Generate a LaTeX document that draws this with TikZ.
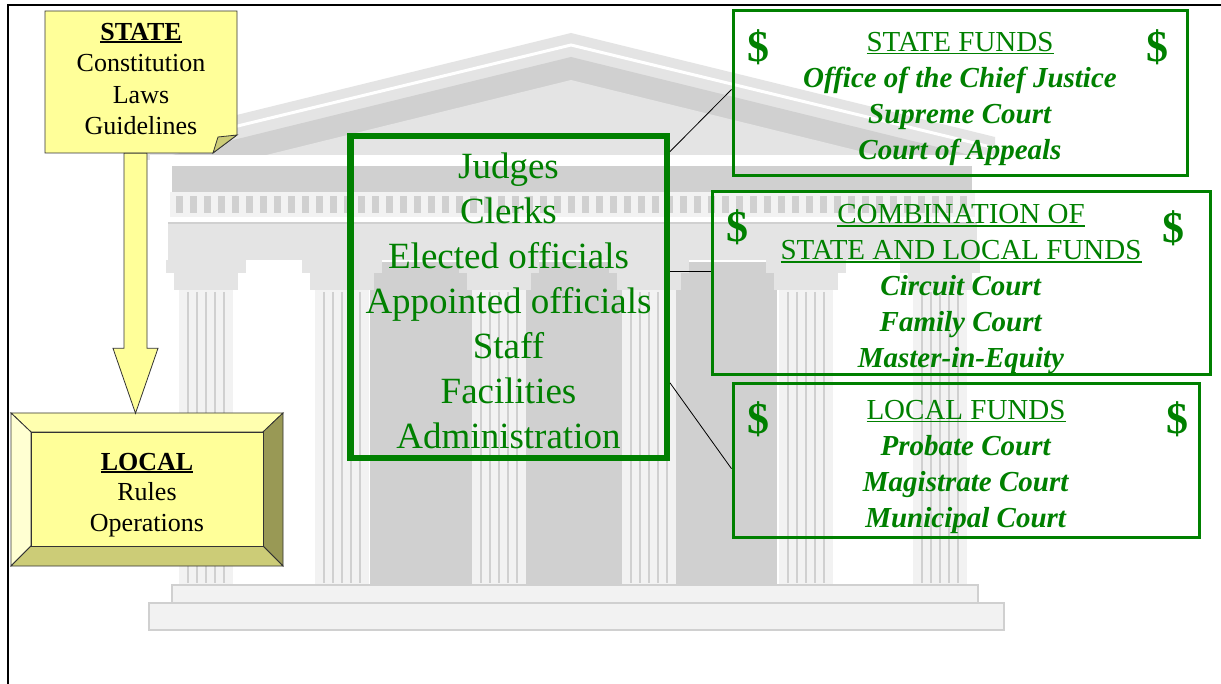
\documentclass[tikz,border=0pt]{standalone}
\usepackage{fontspec}
\setmainfont{Liberation Serif}
\usetikzlibrary{calc}
\definecolor{courtgreen}{RGB}{0,128,0}
\definecolor{noteyellow}{RGB}{255,255,153}
\definecolor{bevtop}{RGB}{255,255,175}
\definecolor{bevleft}{RGB}{255,255,210}
\definecolor{bevright}{RGB}{153,153,85}
\definecolor{bevbottom}{RGB}{204,204,119}
\definecolor{bldg}{RGB}{208,208,208}
\definecolor{bldglight}{RGB}{228,228,228}
\definecolor{bldgpale}{RGB}{242,242,242}
\newcommand{\undl}[2][1.6pt]{\setbox0=\hbox{#2}\rlap{\rule[-3pt]{\wd0}{#1}}\box0}

\begin{document}
\begin{tikzpicture}[x=1pt,y=-1pt,
    yellowtext/.style={align=center,inner sep=0pt,font=\fontsize{26}{31.5}\selectfont},
    fundbox/.style={draw=courtgreen,line width=3pt,align=center,inner sep=0pt,text=courtgreen,
      font=\fontsize{29}{36}\selectfont},
    dollar/.style={text=courtgreen,inner sep=0pt,font=\fontsize{44}{44}\selectfont\bfseries},
    link/.style={black,line width=0.8pt},
    edge/.style={draw=black!80,line width=0.8pt}]
    \fill[white] (0,0) rectangle (1221,684);
    \useasboundingbox (0,0) rectangle (1221,684);

    % courthouse in the background
    \fill[bldglight] (147,137) -- (571,33) -- (995,137) -- (995,160) -- (147,160) -- cycle;
    \draw[white,line width=3pt] (147,148) -- (571,45) -- (995,148);
    \fill[bldg] (152,160) -- (571,57) -- (990,160) -- cycle;
    \fill[bldglight] (246,160) -- (571,80) -- (896,160) -- cycle;
    \fill[white] (150,155) rectangle (993,166);
    \fill[bldg] (172,166) rectangle (972,192);
    \fill[bldgpale] (170,192) rectangle (975,217);
    \foreach \x in {176,190,...,966}
        \fill[bldg] (\x,196) rectangle ++(7,17);
    \fill[bldglight] (168,222) rectangle (977,260);
    \draw[bldg,line width=2pt] (168,223) -- (977,223);
    \fill[bldg] (370,262) rectangle (777,585);
    \foreach \c in {206,342,499,649,806,940} {
        \fill[bldglight] ({\c-40},260) rectangle ({\c+40},273);
        \fill[bldglight] ({\c-32},273) rectangle ({\c+32},290);
        \fill[bldgpale] ({\c-27},290) rectangle ({\c+27},585);
        \foreach \f in {-18,-9,0,9,18}
            \draw[bldg,line width=2pt] ({\c+\f},292) -- ({\c+\f},583);
    }
    \fill[bldgpale] (172,585) rectangle (978,603);
    \draw[bldg,line width=2pt] (172,585) rectangle (978,603);
    \fill[bldgpale] (149,603) rectangle (1004,630);
    \draw[bldg,line width=2pt] (149,603) rectangle (1004,630);

    % frame
    \draw[line width=1.6pt] (8,684) -- (8,5) -- (1221,5);

    % state note and local plaque
    \draw[edge,fill=noteyellow] (45,11) -- (237,11) -- (237,135) -- (213,153) -- (45,153) -- cycle;
    \draw[edge,fill=bevbottom] (213,153) -- (237,135) -- (218,137) -- cycle;
    \draw[edge,fill=bevtop] (11,413) -- (283,413) -- (263,432) -- (31,432) -- cycle;
    \draw[edge,fill=bevleft] (11,413) -- (31,432) -- (31,546) -- (11,566) -- cycle;
    \draw[edge,fill=bevright] (283,413) -- (283,566) -- (263,546) -- (263,432) -- cycle;
    \draw[edge,fill=bevbottom] (11,566) -- (283,566) -- (263,546) -- (31,546) -- cycle;
    \draw[edge,fill=noteyellow] (31,432) rectangle (263,546);

    \node[yellowtext,minimum width=192pt,minimum height=142pt](state) at (141,82)
        {\undl[2pt]{\textbf{STATE}}\\Constitution\\Laws\\\rule[-6pt]{0pt}{6pt}Guidelines};
    \node[yellowtext,minimum width=272pt,minimum height=153pt,font=\fontsize{26}{30.5}\selectfont](local) at (147,490)
        {\rule{0pt}{27pt}\undl[2pt]{\textbf{LOCAL}}\\Rules\\Operations};

    \coordinate (tail) at ($(state.south)+(-5.5,0)$);
    \coordinate (tip) at ($(local.north)+(-11.5,0)$);
    \draw[edge,fill=noteyellow] ($(tail)+(-11.5,0)$) -- ($(tail)+(11.5,0)$) -- ($(tip)+(11.5,-65)$)
        -- ($(tip)+(22.5,-65)$) -- (tip) -- ($(tip)+(-22.5,-65)$) -- ($(tip)+(-11.5,-65)$) -- cycle;

    % court people
    \node[draw=courtgreen,line width=6pt,minimum width=317pt,minimum height=322pt,inner sep=0pt,
        align=center,text=courtgreen,font=\fontsize{37}{45}\selectfont](people) at (508.5,297)
        {\rule{0pt}{33pt}Judges\\Clerks\\Elected officials\\Appointed officials\\Staff\\Facilities\\Administration};
    \draw[courtgreen,line width=1.2pt] ([shift={(6pt,-5pt)}]people.north west)
        rectangle ([shift={(-5pt,5pt)}]people.south east);

    % funding boxes
    \node[fundbox,minimum width=454pt,minimum height=165pt](statefunds) at (960,93.5)
        {\rule{0pt}{30pt}\undl{STATE FUNDS}\\\textbf{\textit{Office of the Chief Justice}}\\
         \textbf{\textit{Supreme Court}}\\\textbf{\textit{Court of Appeals}}};
    \node[fundbox,minimum width=498pt,minimum height=180pt](combo) at (961,283)
        {\rule{0pt}{32pt}\undl{COMBINATION OF}\\\undl{STATE AND LOCAL FUNDS}\\\textbf{\textit{Circuit Court}}\\
         \textbf{\textit{Family Court}}\\\textbf{\textit{Master-in-Equity}}};
    \node[fundbox,minimum width=466pt,minimum height=153pt](localfunds) at (966,460.5)
        {\rule{0pt}{32pt}\undl{LOCAL FUNDS}\\\textbf{\textit{Probate Court}}\\
         \textbf{\textit{Magistrate Court}}\\\textbf{\textit{Municipal Court}}};

    \node[dollar](sfl) at (758,47) {\$};
    \node[dollar](sfr) at (1157,47) {\$};
    \node[dollar](cfl) at (737,227) {\$};
    \node[dollar](cfr) at (1173,228) {\$};
    \node[dollar](lfl) at (758,419) {\$};
    \node[dollar](lfr) at (1177,419) {\$};

    \draw[link] (people.42) -- (statefunds.179);
    \draw[link] (people.9) -- (people.9 -| combo.west);
    \draw[link] (people.-28) -- (localfunds.182);
\end{tikzpicture}
\end{document}
